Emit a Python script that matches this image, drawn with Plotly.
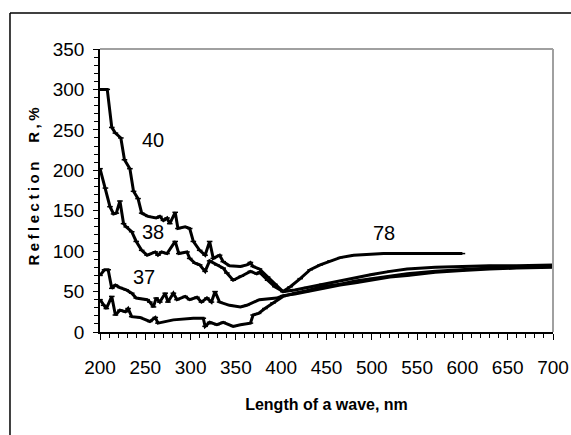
import plotly.graph_objects as go

# ---- data ----
x40 = [200, 208, 213, 217, 223, 227, 233, 237, 242, 246, 253, 262, 266, 270, 274, 277, 283, 286, 294, 299,
       303, 310, 316, 321, 325, 332, 336, 343, 355, 362, 366, 369, 376, 385, 393, 402, 415, 428, 445, 465,
       482, 500, 520, 539, 570, 600, 630, 660, 700]
y40 = [300, 300, 253, 246, 240, 213, 202, 174, 165, 147, 143, 141, 143, 138, 141, 134, 148, 128, 130, 128,
       112, 101, 95, 112, 91, 95, 87, 82, 81, 83, 86, 81, 78, 68, 59, 50, 52, 55, 59, 63,
       67, 71, 75, 78, 80, 81, 82, 82, 83]

x38 = [200, 206, 211, 215, 218, 222, 226, 229, 235, 240, 246, 252, 261, 264, 268, 274, 283, 287, 296, 299,
       305, 310, 316, 321, 329, 336, 340, 347, 356, 366, 373, 376, 385, 393, 402, 410, 421, 432, 443, 454,
       465, 480, 513, 550, 600]
y38 = [202, 178, 155, 146, 147, 162, 134, 130, 124, 112, 101, 95, 99, 95, 99, 97, 112, 97, 99, 91,
       85, 83, 75, 88, 83, 79, 73, 64, 69, 75, 72, 74, 64, 56, 50, 56, 66, 77, 83, 88,
       92, 95, 97, 97, 97]

x37 = [200, 205, 209, 213, 217, 222, 229, 235, 240, 252, 255, 259, 262, 266, 272, 275, 281, 285, 294, 299,
       307, 312, 318, 323, 327, 332, 343, 355, 362, 376, 395, 402, 415, 428, 445, 465, 482, 500, 520, 539,
       570, 600, 630, 660, 700]
y37 = [70, 77, 77, 54, 58, 55, 52, 48, 42, 40, 37, 31, 42, 37, 48, 37, 48, 40, 44, 40,
       43, 37, 42, 37, 50, 37, 33, 31, 33, 40, 42, 45, 47, 50, 54, 58, 61, 64, 68, 70,
       74, 76, 78, 79, 80]

xlow = [200, 204, 207, 213, 217, 222, 228, 231, 235, 244, 255, 261, 264, 281, 303, 314, 316, 321, 329, 336,
        347, 355, 366, 369, 375, 382, 391, 402, 415, 428, 445, 465, 482, 500, 520, 539, 570, 600, 630, 660,
        700]
ylow = [40, 33, 29, 44, 21, 27, 25, 29, 19, 18, 13, 18, 11, 15, 17, 17, 7, 12, 9, 12,
        7, 9, 11, 21, 23, 29, 36, 44, 48, 51, 56, 59, 63, 66, 69, 72, 75, 77, 79, 80,
        81]

labels = ["40", "38", "37", "78"]
label_x = [258, 258, 249, 514]
label_y = [237, 124, 68, 123]

series = [(x40, y40), (x38, y38), (x37, y37), (xlow, ylow)]

fig = go.Figure()
for xs, ys in series:
    fig.add_trace(go.Scatter(
        x=xs, y=ys, mode="lines+markers",
        line=dict(color="black", width=3),
        marker=dict(symbol="line-ew", size=4, line=dict(color="black", width=1.5)),
        showlegend=False, hoverinfo="skip"))

font_main = "Liberation Sans, Arial, sans-serif"

for t, lx, ly in zip(labels, label_x, label_y):
    fig.add_annotation(x=lx, y=ly, text=t, showarrow=False,
                       font=dict(family=font_main, size=20, color="black"))

# y-axis title as annotation
fig.add_annotation(xref="paper", yref="paper", x=-0.170, y=0.52,
                   text="<b>Reflection  R,%</b>", textangle=-90, showarrow=False,
                   font=dict(family=font_main, size=15, color="black"))

# gray top/right plot border
fig.add_shape(type="line", xref="paper", yref="paper", x0=0, y0=1, x1=1, y1=1,
              line=dict(color="#a0a0a0", width=2))
fig.add_shape(type="line", xref="paper", yref="paper", x0=1, y0=1, x1=1, y1=0,
              line=dict(color="#a0a0a0", width=2))
# outer frame (left + top)
fig.add_shape(type="line", xref="paper", yref="paper", x0=-0.1987, y0=1.127, x1=1.04, y1=1.127,
              line=dict(color="black", width=1.5))
fig.add_shape(type="line", xref="paper", yref="paper", x0=-0.1987, y0=1.127, x1=-0.1987, y1=-0.37,
              line=dict(color="black", width=1.5))

fig.update_layout(
    width=571, height=435,
    margin=dict(l=100, r=18, t=49, b=103, autoexpand=False),
    paper_bgcolor="white", plot_bgcolor="white",
    font=dict(family=font_main, color="black"),
    xaxis=dict(range=[200, 700], dtick=50, tick0=200, showgrid=False, zeroline=False,
               automargin=False,
               showline=True, linecolor="black", linewidth=1.5,
               ticks="outside", ticklen=6, tickcolor="black", tickwidth=1,
               minor=dict(dtick=10, ticks="outside", ticklen=4, tickcolor="black", showgrid=False),
               tickfont=dict(size=19, family=font_main, color="black"),
               ticklabelstandoff=11,
               title=dict(text="<b>Length of a wave, nm</b>", font=dict(size=16, family=font_main),
                          standoff=22)),
    yaxis=dict(range=[0, 350], dtick=50, showgrid=False, zeroline=False,
               automargin=False,
               showline=True, linecolor="black", linewidth=1.5,
               ticks="outside", ticklen=5, tickcolor="black", tickwidth=1,
               minor=dict(dtick=10, ticks="outside", ticklen=4, tickcolor="black", showgrid=False),
               tickfont=dict(size=19, family=font_main, color="black"),
               ticklabelstandoff=5),
)

post = ("document.querySelectorAll('.annotation-text').forEach(function(t){"
        "if(t.textContent.indexOf('Reflection')===0){t.style.letterSpacing='3.5px';}});")
fig.write_html("out.html", post_script=post)
